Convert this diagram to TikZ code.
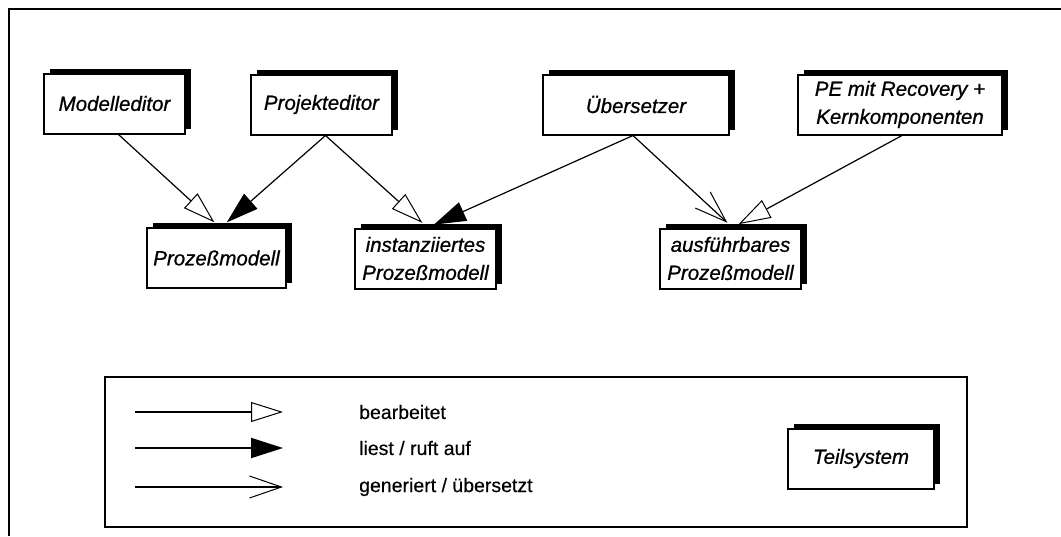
\documentclass[tikz,border=0pt]{standalone}
\usepackage{fontspec}
\setmainfont{Liberation Sans}
\usetikzlibrary{arrows.meta,shadows}

\tikzset{
  subsys/.style={draw, line width=2pt, fill=white, minimum width=141pt,
    minimum height=60pt, inner sep=2pt, align=center,
    font=\fontsize{20.5}{28}\selectfont\itshape\addfontfeature{FakeBold=0.8},
    drop shadow={shadow xshift=6pt, shadow yshift=5pt, fill=black, opacity=1}},
  bearb/.style={-{Triangle[open,length=32pt,width=20pt,line width=1pt]}},
  liest/.style={-{Triangle[length=32pt,width=20pt]}},
  gener/.style={-{Straight Barb[length=32pt,width=22pt,line width=1pt]}},
  legtext/.style={anchor=west, inner sep=0pt,
    font=\fontsize{19.5}{24}\selectfont\addfontfeature{FakeBold=0.3}},
}

\begin{document}
\begin{tikzpicture}[x=1pt,y=-1pt]
\useasboundingbox (0,0) rectangle (1061,536);
\draw[line width=2.5pt] (1061,9) -- (9,9) -- (9,536);

% Teilsysteme
\node[subsys] (medit) at (114.5,103.5) {Modelleditor};
\node[subsys] (pedit) at (321.5,104.5) {Projekteditor};
\node[subsys, minimum width=186pt] (uebers) at (636,104.5) {Übersetzer};
\node[subsys, minimum width=204pt] (pe) at (900,104.5) {PE mit Recovery +\\Kernkomponenten};
\node[subsys, minimum width=139pt] (pmod) at (216.5,258) {Prozeßmodell};
\node[subsys] (imod) at (425.5,258.5) {instanziiertes\\Prozeßmodell};
\node[subsys] (amod) at (730.5,258.5) {ausführbares\\Prozeßmodell};

\begin{scope}[line width=1.2pt, shorten >=7pt]
\draw[bearb] ([xshift=4pt]medit.south) -- ([xshift=3pt]pmod.north);
\draw[liest] ([xshift=4pt]pedit.south) -- ([xshift=5pt]pmod.north);
\draw[bearb] ([xshift=4pt]pedit.south) -- ([xshift=2pt]imod.north);
\draw[liest] ([xshift=-3pt]uebers.south) -- ([xshift=2pt]imod.north);
\draw[gener] ([xshift=-3pt]uebers.south) -- ([xshift=2pt]amod.north);
\draw[bearb] ([xshift=2pt]pe.south) -- ([xshift=2pt]amod.north);
\end{scope}

% Legende
\draw[line width=2.5pt] (105,377) rectangle (967,527);
\foreach \y/\sty/\txt [count=\i] in {412/bearb/bearbeitet,
    448/liest/{liest / ruft auf}, 487/gener/{generiert / übersetzt}} {
  \coordinate (la\i) at (135,\y);
  \coordinate (lb\i) at (283,\y);
  \draw[\sty, line width=2pt] (la\i) -- (lb\i);
  \node[legtext] (lt\i) at (359,\y) {\txt};
}
\node[subsys, minimum width=146pt] (teil) at (861,458.5) {Teilsystem};
\end{tikzpicture}
\end{document}
